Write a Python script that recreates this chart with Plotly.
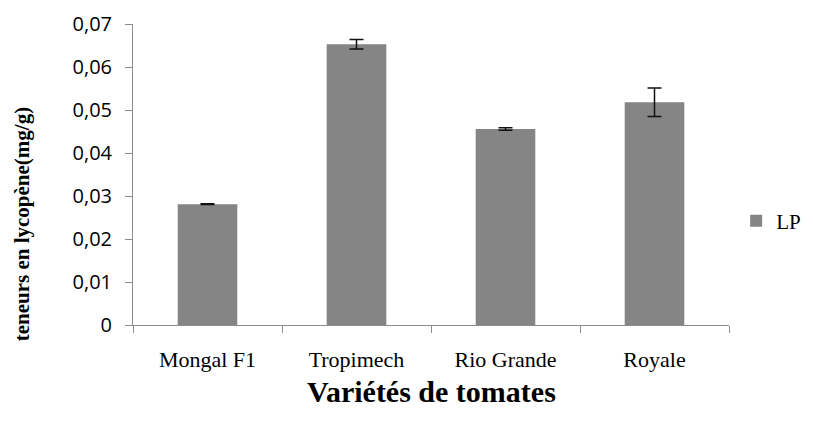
import plotly.graph_objects as go

categories = ["Mongal F1", "Tropimech", "Rio Grande", "Royale"]
values = [0.0281, 0.0653, 0.0456, 0.0518]
errors = [0.0001, 0.0011, 0.0003, 0.0033]
y_ticks = [0, 0.01, 0.02, 0.03, 0.04, 0.05, 0.06, 0.07]
y_ticklabels = ["0", "0,01", "0,02", "0,03", "0,04", "0,05", "0,06", "0,07"]
series_name = "LP"
x_title = "<b>Variétés de tomates</b>"
y_title = "<b>teneurs en lycopène(mg/g)</b>"

fig = go.Figure()
fig.add_trace(go.Bar(
    x=categories, y=values, name=series_name,
    marker=dict(color="#858585", line=dict(width=0)),
    width=0.4,
    error_y=dict(type="data", array=errors, visible=True,
                 color="#111111", thickness=1.5, width=7),
))

fig.update_layout(
    width=805, height=415,
    margin=dict(l=125, r=84, t=16, b=98, autoexpand=False),
    paper_bgcolor="white", plot_bgcolor="white",
    showlegend=True,
    legend=dict(x=1.012, y=0.345, xanchor="left", yanchor="middle",
                font=dict(family="Liberation Serif", size=21, color="black"),
                itemwidth=30, bgcolor="rgba(0,0,0,0)"),
    xaxis=dict(
        type="category",
        showline=True, linecolor="#8c8c8c", linewidth=1,
        ticks="outside", tickson="boundaries", ticklen=7, tickcolor="#8c8c8c",
        tickfont=dict(family="Liberation Serif", size=22, color="black"),
        ticklabelstandoff=15,
        showgrid=False,
    ),
    yaxis=dict(
        range=[0, 0.07],
        tickvals=y_ticks, ticktext=y_ticklabels,
        showline=True, linecolor="#8c8c8c", linewidth=1,
        ticks="outside", ticklen=7, tickcolor="#8c8c8c",
        tickfont=dict(family="Open Sans", size=20, color="black"),
        ticklabelstandoff=9,
        showgrid=False, zeroline=False,
    ),
    annotations=[
        dict(text=x_title, xref="paper", yref="paper", x=0.5, y=-0.222,
             xanchor="center", yanchor="middle", showarrow=False,
             font=dict(family="Liberation Serif", size=30, color="black")),
        dict(text=y_title, xref="paper", yref="paper", x=-0.186, y=0.335,
             xanchor="center", yanchor="middle", showarrow=False, textangle=-90,
             font=dict(family="Liberation Serif", size=21, color="black")),
    ],
)

fig.write_html("out.html")
